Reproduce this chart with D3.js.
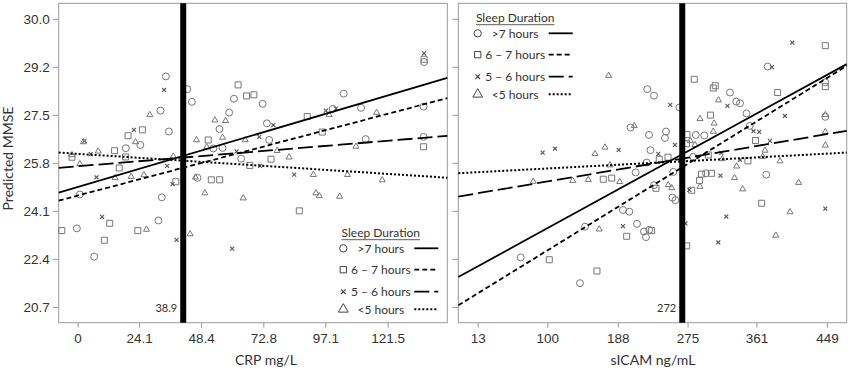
<!DOCTYPE html>
<html>
<head>
<meta charset="utf-8">
<script src="https://cdn.jsdelivr.net/npm/d3@7"></script>
<style>
  body { margin: 0; background: #fff; }
  svg { font-family: Lato, 'Open Sans', sans-serif; }
</style>
</head>
<body>
<svg id="chart" width="850" height="370"></svg>
<script>
// groups, in legend order
const groups = ['>7 hours', '6 – 7 hours', '5 – 6 hours', '<5 hours']
const shapes = ['circle', 'square', 'times', 'triangle']
const dashes = [null, '5,3', '15,5', '2,2']

// shared y axis (predicted MMSE)
const mmseTicks = [20.7, 22.4, 24.1, 25.8, 27.5, 29.2, 30.9]
const mmseTickLabels = ['20.7', '22.4', '24.1', '25.8', '27.5', '29.2', '30.0']

// CRP panel
const crpTicks = [0, 24.1, 48.4, 72.8, 97.1, 121.5]
const crpRef = 41.4
const crpRefLabel = '38.9'
// intercept, slope for each group
const crpFits = [[24.94, 0.02672], [24.64, 0.02383], [25.68, 0.00742], [26.12, -0.005844]]
const crpOver7 = [[34.6, 28.86], [32.5, 27.65], [35.8, 26.91], [24.6, 26.43], [18.9, 26.32], [0.9, 24.68], [33.0, 24.58], [31.7, 23.76], [-0.3, 23.48], [6.5, 22.48], [43.0, 28.41], [44.8, 27.96], [61.3, 28.07], [59.4, 27.58], [55.6, 27.0], [53.2, 26.31], [56.8, 26.33], [64.1, 25.95], [47.0, 25.27], [72.5, 27.89], [74.2, 27.2], [75.1, 26.61], [104.3, 28.25], [100.0, 27.71], [111.1, 27.75], [112.9, 26.64], [135.8, 29.37], [135.6, 27.79], [135.6, 26.72]]
const crp6to7 = [[25.4, 26.97], [19.8, 26.76], [14.5, 26.23], [18.8, 26.01], [-2.2, 26.0], [16.3, 25.62], [12.6, 23.66], [-6.2, 23.4], [23.6, 23.4], [10.5, 23.06], [38.5, 25.13], [62.9, 28.56], [66.2, 28.17], [69.1, 28.21], [51.2, 26.61], [52.4, 25.2], [55.7, 25.2], [67.5, 25.71], [75.8, 25.93], [90.0, 27.44], [95.9, 26.89], [135.8, 29.47], [135.6, 26.37], [86.9, 24.1]]
const crp5to6 = [[33.9, 28.38], [22.1, 26.97], [2.7, 26.58], [5.1, 26.11], [7.4, 25.29], [35.1, 25.69], [37.2, 25.05], [9.6, 23.89], [38.8, 23.07], [62.3, 26.21], [60.6, 22.76], [76.7, 27.14], [71.2, 26.72], [71.5, 25.69], [97.3, 27.65], [101.3, 27.72], [135.8, 29.68], [84.9, 25.38]]
const crpUnder5 = [[28.3, 27.5], [22.7, 26.54], [2.3, 26.54], [8.1, 26.21], [-2.2, 26.08], [0.9, 25.76], [14.7, 25.27], [21.0, 25.31], [26.0, 25.37], [37.5, 26.03], [27.0, 23.44], [44.1, 23.28], [53.8, 27.31], [58.0, 27.29], [46.6, 26.61], [56.8, 26.7], [50.6, 26.36], [65.7, 26.61], [46.2, 25.29], [49.9, 24.73], [64.9, 24.55], [78.2, 26.23], [82.9, 26.0], [98.6, 27.5], [117.2, 27.58], [109.1, 26.38], [92.4, 25.38], [105.8, 25.38], [119.4, 25.19], [93.4, 24.73], [94.7, 24.63], [102.7, 24.61]]

// sICAM panel
const icamTicks = [13, 100, 188, 275, 361, 449]
const icamRef = 268.4
const icamRefLabel = '272'
const icamFits = [[21.93, 0.01555], [20.95, 0.01749], [24.66, 0.004805], [25.45, 0.001505]]
const icamOver7 = [[224.7, 28.41], [233.1, 28.18], [264.9, 27.76], [203.8, 27.05], [226.9, 26.79], [248.1, 26.91], [246.8, 26.68], [228.7, 26.25], [224.0, 25.81], [210.2, 25.46], [257.2, 25.48], [233.1, 25.01], [256.2, 24.57], [259.9, 24.48], [194.4, 24.13], [202.3, 24.07], [211.9, 23.64], [220.6, 23.37], [223.1, 23.17], [227.2, 23.43], [147.0, 23.54], [66.7, 22.45], [140.7, 21.54], [375.0, 29.21], [328.0, 28.29], [335.8, 27.97], [340.5, 27.91], [348.6, 27.55], [352.6, 27.11], [285.3, 26.79], [295.9, 26.77], [282.2, 26.01], [298.0, 25.43], [373.3, 25.38], [447.0, 28.65], [447.0, 27.43]]
const icam6to7 = [[250.6, 26.0], [239.7, 25.93], [169.8, 25.22], [180.3, 25.26], [235.6, 24.9], [230.2, 23.4], [199.0, 23.2], [102.4, 22.37], [161.9, 21.97], [283.4, 28.76], [307.1, 28.45], [309.6, 28.53], [387.5, 28.29], [303.6, 27.49], [274.3, 26.8], [273.7, 26.48], [359.8, 26.59], [350.4, 25.87], [300.9, 26.08], [292.4, 25.4], [304.9, 25.43], [289.9, 25.18], [280.2, 24.83], [367.5, 24.37], [273.9, 22.86], [447.0, 29.95], [447.0, 28.5]]
const icam5to6 = [[253.4, 27.85], [259.3, 26.44], [94.1, 26.16], [109.5, 26.3], [189.0, 26.26], [238.5, 26.12], [194.4, 23.56], [380.4, 29.19], [324.8, 27.82], [396.6, 27.46], [357.3, 26.92], [364.5, 26.9], [377.9, 26.58], [317.1, 26.15], [340.5, 25.91], [316.1, 25.35], [323.4, 23.9], [313.4, 22.98], [447.0, 24.18], [405.7, 30.06], [277.2, 24.84], [272.4, 23.66]]
const icamUnder5 = [[176.5, 28.89], [208.5, 27.11], [159.4, 26.12], [171.9, 26.35], [178.2, 25.72], [131.6, 25.17], [151.1, 25.2], [190.3, 25.13], [82.4, 25.14], [250.9, 25.02], [255.2, 24.91], [164.7, 23.45], [313.6, 28.02], [290.5, 27.36], [308.2, 27.2], [307.1, 26.91], [278.4, 26.58], [284.3, 26.44], [371.7, 26.24], [318.4, 25.94], [368.8, 26.02], [390.4, 25.86], [336.3, 25.68], [333.6, 25.27], [290.5, 24.96], [343.8, 24.87], [413.7, 25.1], [402.9, 24.06], [385.2, 23.23], [447.0, 27.5], [447.0, 26.9], [447.0, 26.42]]

const svg = d3.select('#chart')
const plotTop = 3.3
const plotBottom = 322.7
const frameColor = '#9a9a9a'
const markColor = '#777'
const textColor = '#333'

const y = d3.scaleLinear().domain([20.14, 31.45]).range([plotBottom, plotTop])

const symbolTypes = {
  circle: [d3.symbolCircle, 38],
  square: [d3.symbolSquare, 36],
  triangle: [d3.symbolTriangle, 16],
  times: [d3.symbolTimes, 12]
}

function marker(sel, shape, scale) {
  const t = symbolTypes[shape]
  sel
    .attr('d', d3.symbol(t[0], t[1] * (scale || 1)))
    .attr('fill', 'none')
    .attr('stroke', shape === 'times' ? '#555' : markColor)
    .attr('stroke-width', shape === 'times' ? 1.1 : 1)
}

function drawPanel(opt) {
  const x = d3.scaleLinear().domain(opt.domain).range(opt.range)
  const g = svg.append('g')

  // x axis
  const xa = g
    .append('g')
    .attr('transform', 'translate(0,' + plotBottom + ')')
    .call(d3.axisBottom(x).tickValues(opt.ticks).tickFormat(d => String(d)).tickSize(5).tickPadding(6))
  xa.select('.domain').remove()
  xa.selectAll('line').attr('stroke', frameColor)
  xa.selectAll('text').attr('fill', textColor).style('font-size', '13.5px')

  // y axis
  const ya = g
    .append('g')
    .attr('transform', 'translate(' + opt.range[0] + ',0)')
    .call(
      d3.axisLeft(y)
        .tickValues(mmseTicks)
        .tickFormat((d, i) => (opt.yLabels ? mmseTickLabels[i] : ''))
        .tickSize(6)
        .tickPadding(3)
    )
  ya.select('.domain').remove()
  ya.selectAll('line').attr('stroke', frameColor)
  ya.selectAll('text').attr('fill', textColor).style('font-size', '13.5px')

  // frame
  g.append('rect')
    .attr('x', opt.range[0])
    .attr('y', plotTop)
    .attr('width', opt.range[1] - opt.range[0])
    .attr('height', plotBottom - plotTop)
    .attr('fill', 'none')
    .attr('stroke', frameColor)

  // points
  opt.points.forEach(function (pts, i) {
    g.append('g')
      .selectAll('path')
      .data(pts)
      .enter()
      .append('path')
      .attr('transform', d => 'translate(' + x(d[0]) + ',' + y(d[1]) + ')')
      .call(marker, shapes[i])
  })

  // fitted lines
  opt.fits.forEach(function (f, i) {
    const line = d3.line().x(d => x(d)).y(d => y(f[0] + f[1] * d))
    g.append('path')
      .attr('d', line(opt.domain))
      .attr('fill', 'none')
      .attr('stroke', '#000')
      .attr('stroke-width', i === 3 ? 2 : 1.8)
      .attr('stroke-dasharray', dashes[i])
  })

  // reference line
  g.append('line')
    .attr('x1', x(opt.ref))
    .attr('x2', x(opt.ref))
    .attr('y1', plotTop)
    .attr('y2', plotBottom)
    .attr('stroke', '#000')
    .attr('stroke-width', 6)
  g.append('text')
    .attr('x', x(opt.ref) - 6)
    .attr('y', 312)
    .attr('text-anchor', 'end')
    .attr('fill', textColor)
    .style('font-size', '11px')
    .text(opt.refLabel)

  // axis title
  g.append('text')
    .attr('x', opt.titleX)
    .attr('y', 364.5)
    .attr('text-anchor', 'middle')
    .attr('fill', textColor)
    .style('font-size', '14px')
    .text(opt.title)

  // legend
  const lg = g.append('g').attr('transform', 'translate(' + opt.legend[0] + ',' + opt.legend[1] + ')')
  const title = lg
    .append('text')
    .attr('x', 37.5)
    .attr('dy', '0.35em')
    .attr('text-anchor', 'middle')
    .attr('fill', textColor)
    .style('font-size', '12px')
    .text('Sleep Duration')
  const tw = title.node().getComputedTextLength()
  lg.append('line')
    .attr('x1', 37.5 - tw / 2)
    .attr('x2', 37.5 + tw / 2)
    .attr('y1', 7)
    .attr('y2', 7)
    .attr('stroke', textColor)
    .attr('stroke-width', 0.8)

  const rowY = [15.6, 37, 59, 76.6]
  groups.forEach(function (name, i) {
    const row = lg.append('g').attr('transform', 'translate(0,' + rowY[i] + ')')
    row.append('path').call(marker, shapes[i], i === 3 ? 2.6 : i === 2 ? 1.3 : 1.1)
    row.select('path').attr('stroke', '#444')
    row.append('text')
      .attr('x', 37.5)
      .attr('dy', '0.35em')
      .attr('text-anchor', 'middle')
      .attr('fill', textColor)
      .style('font-size', '12px')
      .text(name)
    row.append('line')
      .attr('x1', 71)
      .attr('x2', 95)
      .attr('stroke', '#000')
      .attr('stroke-width', i === 3 ? 2 : 1.8)
      .attr('stroke-dasharray', dashes[i])
  })
}

drawPanel({
  domain: [-7.4, 144.9],
  range: [58.7, 447.3],
  ticks: crpTicks,
  yLabels: true,
  points: [crpOver7, crp6to7, crp5to6, crpUnder5],
  fits: crpFits,
  ref: crpRef,
  refLabel: crpRefLabel,
  title: 'CRP mg/L',
  titleX: 266,
  legend: [343.3, 232.7]
})

drawPanel({
  domain: [-11.2, 473.7],
  range: [458.3, 846.7],
  ticks: icamTicks,
  yLabels: false,
  points: [icamOver7, icam6to7, icam5to6, icamUnder5],
  fits: icamFits,
  ref: icamRef,
  refLabel: icamRefLabel,
  title: 'sICAM ng/mL',
  titleX: 653,
  legend: [477.7, 17.7]
})

// shared y title
svg.append('text')
  .attr('transform', 'translate(13,158.5) rotate(-90)')
  .attr('text-anchor', 'middle')
  .attr('fill', textColor)
  .style('font-size', '14px')
  .text('Predicted MMSE')
</script>
</body>
</html>
